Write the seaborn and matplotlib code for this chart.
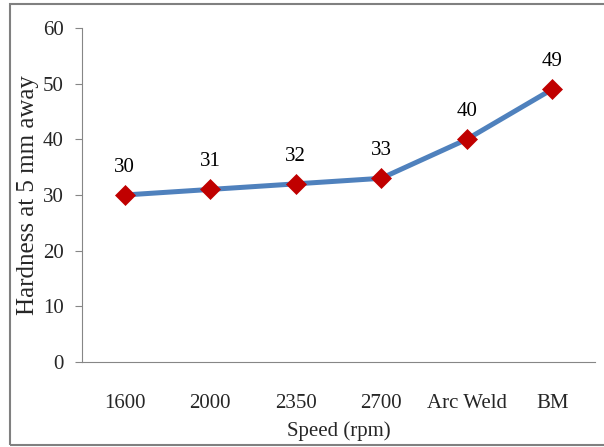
import matplotlib
matplotlib.use("Agg")
import matplotlib.pyplot as plt
import seaborn as sns
import pandas as pd
from matplotlib.patches import Rectangle

categories = ["1600", "2000", "2350", "2700", "Arc Weld", "BM"]
hardness = [30, 31, 32, 33, 40, 49]

sns.set_style("white")
plt.rcParams['font.family'] = ['Liberation Serif', 'DejaVu Serif']
plt.rcParams['font.size'] = 15

df = pd.DataFrame({"pos": range(len(categories)), "cat": categories, "h": hardness})

fig = plt.figure(figsize=(6.04, 4.47), dpi=100)
ax = fig.add_axes([82/604, 85/447, (595-82)/604, (419-85)/447])

sns.lineplot(data=df, x="pos", y="h", ax=ax, color="#4F81BD", linewidth=3.6,
             marker="D", markersize=10.5, markerfacecolor="#C00000",
             markeredgecolor="#C00000", markeredgewidth=0.5)

for x, y in zip(df["pos"], df["h"]):
    ax.annotate(str(y), (x, y), xytext=(0, 13), textcoords="offset points",
                ha="center", va="bottom", fontsize=15, color="black")

ax.set_xlim(-0.5, len(categories) - 0.5)
ax.set_ylim(0, 60)
ax.set_yticks(range(0, 61, 10))
ax.set_xticks(df["pos"])
ax.set_xticklabels(categories)
ax.tick_params(axis="x", length=0, pad=23, labelsize=15)
ax.tick_params(axis="y", length=5, width=0.8, color="#868686", direction="out", left=True, pad=8, labelsize=15)
ax.set_xlabel("Speed (rpm)", fontsize=15, labelpad=6)
ax.set_ylabel("Hardness at 5 mm away", fontsize=18, labelpad=3)

for s in ["top", "right"]:
    ax.spines[s].set_visible(False)
for s in ["left", "bottom"]:
    ax.spines[s].set_color("#868686")
    ax.spines[s].set_linewidth(0.8)

fig.patches.append(Rectangle((10/604, 2/447), 1.0, 441/447, transform=fig.transFigure,
                             fill=False, edgecolor="#808080", linewidth=1.5))

fig.savefig("out.png", dpi=100)
